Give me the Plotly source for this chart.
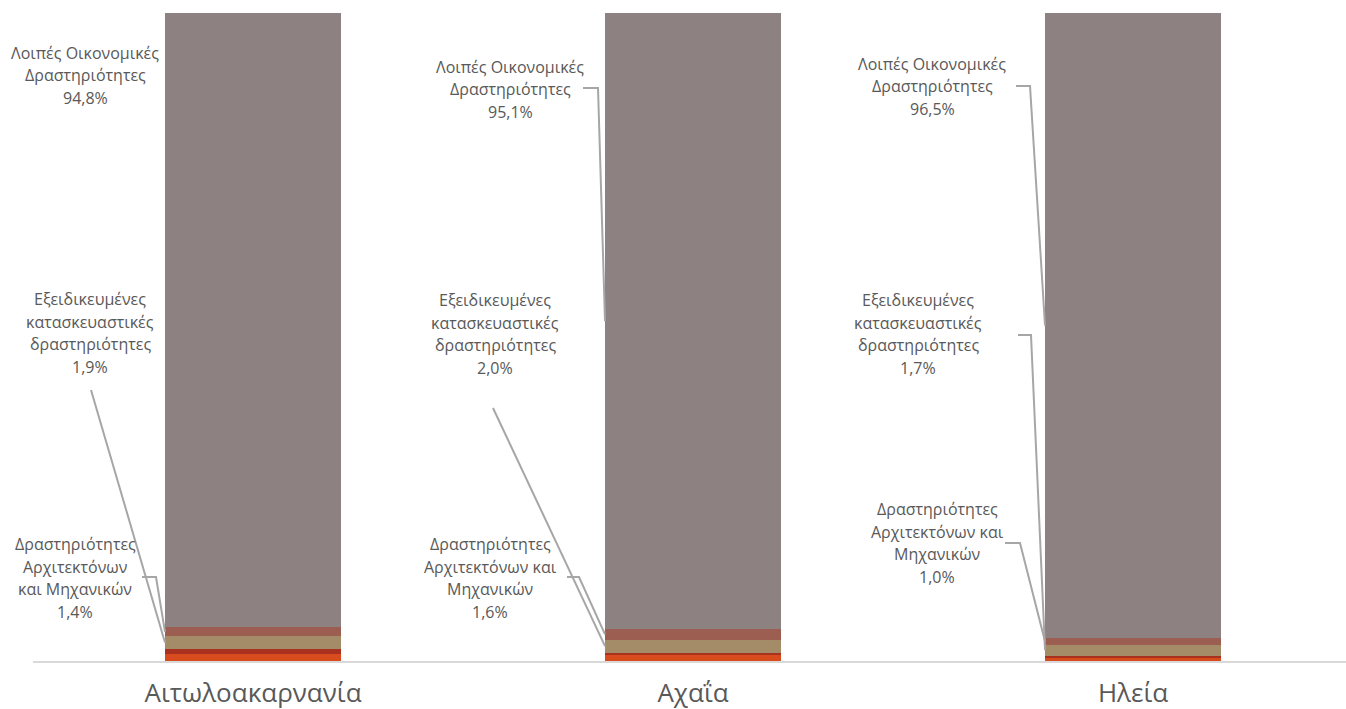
import plotly.graph_objects as go

# ---------------- data ----------------
regions = ["Αιτωλοακαρνανία", "Αχαΐα", "Ηλεία"]

series_names = [
    "Κατασκευή κτιρίων",
    "Έργα πολιτικού μηχανικού",
    "Εξειδικευμένες κατασκευαστικές δραστηριότητες",
    "Δραστηριότητες Αρχιτεκτόνων και Μηχανικών",
    "Λοιπές Οικονομικές Δραστηριότητες",
]
kataskevi_ktirion = [1.1, 0.9, 0.5]
erga_politikou = [0.8, 0.4, 0.3]
exeidikevmenes = [1.9, 2.0, 1.7]
architektones = [1.4, 1.6, 1.0]
loipes = [94.8, 95.1, 96.5]

series_values = [kataskevi_ktirion, erga_politikou, exeidikevmenes, architektones, loipes]
series_colors = ["#D84B1C", "#A8321F", "#A58C69", "#9C5E50", "#8D8181"]

# ---------------- layout constants ----------------
W, H = 1346, 709
ML, MR, MT, MB = 33, 0, 13, 48
XR = [-0.5, 2.484]
YR = [0, 100]
BAR_W = 0.4
TEXT_COLOR = "#595959"
LEADER_COLOR = "#A6A6A6"
FONT = "Open Sans"
LINE_H = 22.5


def px_x(p):
    return XR[0] + (p - ML) / (W - ML - MR) * (XR[1] - XR[0])


def px_y(p):
    return YR[0] + (H - MB - p) / (H - MT - MB) * (YR[1] - YR[0])


def fmt(v):
    return f"{v:.1f}".replace(".", ",") + "%"


fig = go.Figure()
for name, vals, col in zip(series_names, series_values, series_colors):
    fig.add_trace(go.Bar(
        x=list(range(len(regions))), y=vals, name=name,
        marker=dict(color=col, line=dict(width=0)),
        width=BAR_W,
        hovertemplate="%{y:.1f}%<extra>" + name + "</extra>",
    ))

# label placement (pixel positions for label text + leader elbows)
label_layout = {
    0: {
        4: dict(lines=["Λοιπές Οικονομικές", "Δραστηριότητες"], c=(85, 75), lead=None),
        2: dict(lines=["Εξειδικευμένες", "κατασκευαστικές", "δραστηριότητες"], c=(90, 333), lead=[(91, 390)]),
        3: dict(lines=["Δραστηριότητες", "Αρχιτεκτόνων", "και Μηχανικών"], c=(75, 578), lead=[(142, 577), (156, 577)]),
    },
    1: {
        4: dict(lines=["Λοιπές Οικονομικές", "Δραστηριότητες"], c=(510, 89), lead=[(583, 88), (598, 88)]),
        2: dict(lines=["Εξειδικευμένες", "κατασκευαστικές", "δραστηριότητες"], c=(495, 334), lead=[(493, 408)]),
        3: dict(lines=["Δραστηριότητες", "Αρχιτεκτόνων και", "Μηχανικών"], c=(490, 578), lead=[(567, 577), (579, 577)]),
    },
    2: {
        4: dict(lines=["Λοιπές Οικονομικές", "Δραστηριότητες"], c=(932, 86), lead=[(1016, 86), (1030, 86)]),
        2: dict(lines=["Εξειδικευμένες", "κατασκευαστικές", "δραστηριότητες"], c=(918, 334), lead=[(1018, 335), (1031, 335)]),
        3: dict(lines=["Δραστηριότητες", "Αρχιτεκτόνων και", "Μηχανικών"], c=(937, 543), lead=[(1005, 543), (1020, 543)]),
    },
}

annotations = []
shapes = []
for i in range(len(regions)):
    cum = 0.0
    mids = []
    for vals in series_values:
        mids.append(cum + vals[i] / 2)
        cum += vals[i]
    for s, spec in label_layout[i].items():
        lines = spec["lines"] + [fmt(series_values[s][i])]
        cx, cy = spec["c"]
        n = len(lines)
        for k, ln in enumerate(lines):
            yy = cy + (k - (n - 1) / 2) * LINE_H
            annotations.append(dict(
                x=px_x(cx), y=px_y(yy), xref="x", yref="y", text=ln,
                showarrow=False, xanchor="center", yanchor="middle",
                font=dict(family=FONT, size=16, color=TEXT_COLOR),
            ))
        if spec["lead"]:
            pts = [(px_x(a), px_y(b)) for a, b in spec["lead"]]
            pts.append((i - BAR_W / 2, mids[s]))
            path = "M " + " L ".join(f"{a},{b}" for a, b in pts)
            shapes.append(dict(type="path", path=path, xref="x", yref="y",
                               line=dict(color=LEADER_COLOR, width=2), layer="above"))

fig.update_layout(
    barmode="stack",
    width=W, height=H,
    margin=dict(l=ML, r=MR, t=MT, b=MB, pad=0),
    paper_bgcolor="white", plot_bgcolor="white",
    showlegend=False,
    annotations=annotations,
    shapes=shapes,
    font=dict(family=FONT, color=TEXT_COLOR),
    xaxis=dict(
        range=XR, tickmode="array", tickvals=list(range(len(regions))), ticktext=regions,
        showgrid=False, zeroline=False, showline=True, linecolor="#D9D9D9", linewidth=2,
        ticks="", tickfont=dict(family=FONT, size=26, color=TEXT_COLOR),
        ticklabelstandoff=8,
    ),
    yaxis=dict(range=YR, visible=False, showgrid=False, zeroline=False),
)

fig.write_html("out.html", config={"displayModeBar": False},
               post_script="document.body.style.margin='0';")
